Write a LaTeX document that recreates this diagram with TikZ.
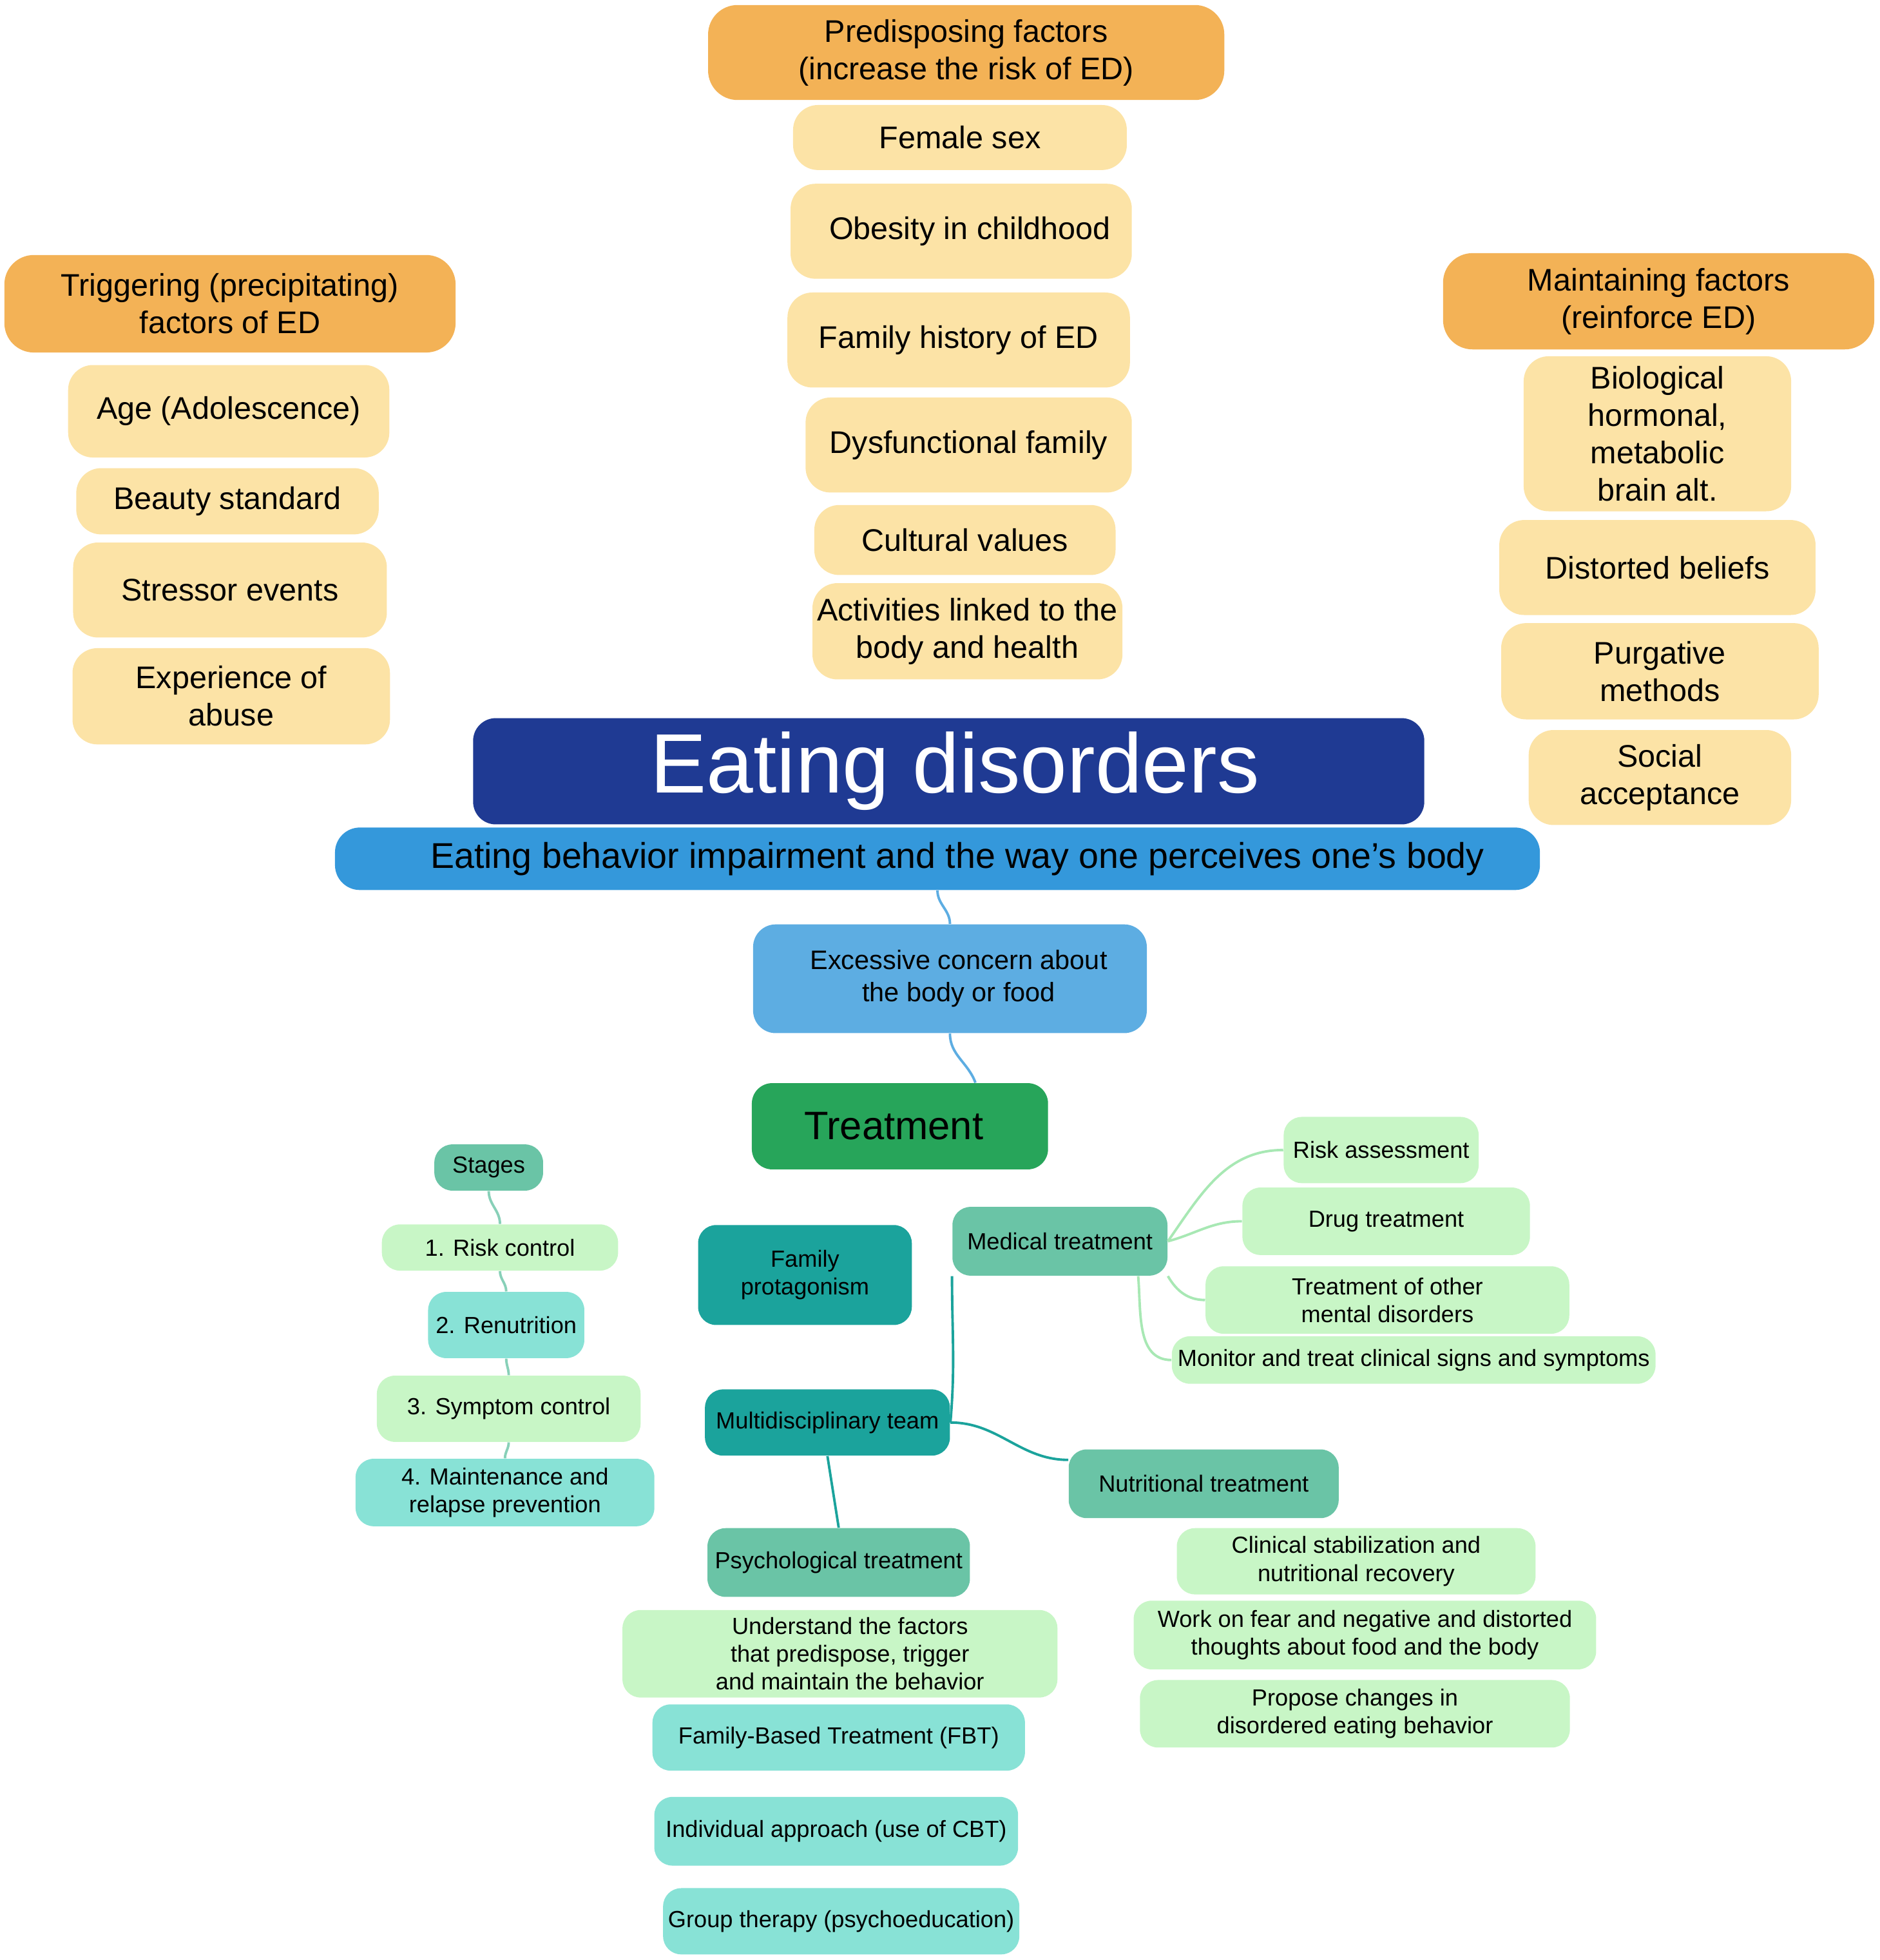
\documentclass[tikz,border=0pt]{standalone}
\usepackage{fontspec}
\setmainfont{Liberation Sans}
\usetikzlibrary{positioning}

\newlength\pxu
\setlength\pxu{0.019395cm}

\definecolor{hdrorange}{HTML}{F3B256}
\definecolor{factoryellow}{HTML}{FCE3A6}
\definecolor{titlenavy}{HTML}{1F3A93}
\definecolor{subblue}{HTML}{3498DB}
\definecolor{concernblue}{HTML}{5DADE2}
\definecolor{treatgreen}{HTML}{27A55A}
\definecolor{midteal}{HTML}{6AC4A6}
\definecolor{lightgreen}{HTML}{C8F6C6}
\definecolor{lightteal}{HTML}{88E2D6}
\definecolor{darkteal}{HTML}{1BA39C}
\definecolor{medlink}{HTML}{A8E8B4}

\tikzset{
  tbox/.style 2 args={inner sep=0pt, align=center,
    minimum width=#1*\pxu, minimum height=#2*\pxu},
  header/.style={fill=hdrorange, rounded corners=13pt,
    font=\fontsize{13.8}{16.5}\selectfont},
  factor/.style={fill=factoryellow, rounded corners=11pt,
    font=\fontsize{13.8}{16.5}\selectfont},
  smalltxt/.style={rounded corners=8pt, font=\fontsize{10.3}{12.3}\selectfont},
  midbox/.style={smalltxt, fill=midteal},
  greenbox/.style={smalltxt, fill=lightgreen},
  tealbox/.style={smalltxt, fill=lightteal},
  darkbox/.style={smalltxt, fill=darkteal},
  conline/.style={line width=1.1pt},
  stageline/.style={conline, midteal!80},
  medline/.style={conline, medlink},
  teamline/.style={conline, darkteal},
}

\begin{document}
\begin{tikzpicture}[x=\pxu, y=\pxu]
  \useasboundingbox (0,0) rectangle (1504,-1568);

  % Predisposing factors
  \node[header, tbox={413}{76}] (pred) at (773,-42) {Predisposing factors\\(increase the risk of ED)};
  \node[factor, tbox={267}{52}] (female) at (768,-110) {Female sex};
  \node[factor, tbox={273}{76}] (obesity) at (769,-185) {\hspace*{14\pxu}Obesity in childhood};
  \node[factor, tbox={274}{76}] (famhist) at (767,-272) {Family history of ED};
  \node[factor, tbox={261}{76}] (dysfam) at (775,-356) {Dysfunctional family};
  \node[factor, tbox={241}{56}] (cultural) at (772,-432) {Cultural values};
  \node[factor, tbox={248}{77}] (activ) at (774,-505) {Activities linked to the\\body and health};

  % Triggering factors
  \node[header, tbox={361}{78}] (trig) at (184,-243) {Triggering (precipitating)\\factors of ED};
  \node[factor, tbox={257}{74}] (age) at (183,-329) {Age (Adolescence)};
  \node[factor, tbox={242}{53}] (beauty) at (182,-401) {Beauty standard};
  \node[factor, tbox={251}{76}] (stressor) at (184,-472) {Stressor events};
  \node[factor, tbox={254}{77}] (abuse) at (185,-557) {Experience of\\abuse};

  % Maintaining factors
  \node[header, tbox={345}{77}] (maint) at (1327,-241) {Maintaining factors\\(reinforce ED)};
  \node[factor, tbox={214}{124}] (bio) at (1326,-347) {Biological\\hormonal,\\metabolic\\brain alt.};
  \node[factor, tbox={253}{76}] (beliefs) at (1326,-454) {Distorted beliefs};
  \node[factor, tbox={254}{77}] (purg) at (1328,-537) {Purgative\\methods};
  \node[factor, tbox={210}{76}] (social) at (1328,-622) {Social\\acceptance};

  % Core
  \node[tbox={761}{85}, fill=titlenavy, text=white, rounded corners=10pt,
    font=\fontsize{37.2}{40}\selectfont] (title) at (759,-617) {\hspace*{10\pxu}Eating disorders};
  \node[tbox={964}{50}, fill=subblue, rounded corners=11pt,
    font=\fontsize{15.8}{18}\selectfont] (sub) at (750,-687) {\hspace*{32\pxu}Eating behavior impairment and the way one perceives one’s body};
  \node[tbox={315}{87}, fill=concernblue, rounded corners=10pt,
    font=\fontsize{11.8}{14.3}\selectfont] (concern) at (760,-783) {\hspace*{14\pxu}Excessive concern about\\\hspace*{14\pxu}the body or food};
  \node[tbox={237}{69}, fill=treatgreen, rounded corners=9pt,
    font=\fontsize{17.5}{20}\selectfont] (treat) at (720,-901) {Treatment\hspace*{10\pxu}};

  \draw[conline, concernblue] (sub.south) to[out=-90, in=90] (concern.north);
  \draw[conline, concernblue] (concern.south) to[out=-90, in=110] (treat.30);

  % Stages
  \node[midbox, tbox={87}{37}] (stages) at (391,-934) {Stages};
  \node[greenbox, tbox={189}{37}] (riskctl) at (400,-998) {1. Risk control};
  \node[tealbox, tbox={125}{53}] (renut) at (405,-1060) {2. Renutrition};
  \node[greenbox, tbox={211}{53}] (symptom) at (407,-1127) {3. Symptom control};
  \node[tealbox, tbox={239}{54}] (relapse) at (404,-1194) {4. Maintenance and\\relapse prevention};
  \foreach \a/\b in {stages/riskctl, riskctl/renut, renut/symptom, symptom/relapse}
    \draw[stageline] (\a.south) to[out=-90, in=90] (\b.north);

  % Team
  \node[darkbox, tbox={171}{80}] (famprot) at (644,-1020) {Family\\protagonism};
  \node[midbox, tbox={172}{55}] (medical) at (848,-993) {Medical treatment};
  \node[darkbox, tbox={196}{53}] (team) at (662,-1138) {Multidisciplinary team};
  \node[midbox, tbox={216}{55}] (nutri) at (963,-1187) {Nutritional treatment};
  \node[midbox, tbox={210}{55}] (psych) at (671,-1250) {Psychological treatment};

  \draw[teamline] (team.east) to[out=85, in=-90] (medical.south west);
  \draw[teamline] (team.east) to[out=0, in=180] (nutri.170);
  \draw[teamline] (team.south) -- (psych.north);

  % Medical treatment
  \node[greenbox, tbox={156}{53}] (riskass) at (1105,-920) {Risk assessment};
  \node[greenbox, tbox={230}{54}] (drug) at (1109,-977) {Drug treatment};
  \node[greenbox, tbox={291}{54}] (othermd) at (1110,-1040) {Treatment of other\\mental disorders};
  \node[greenbox, tbox={387}{38}] (monitor) at (1131,-1088) {Monitor and treat clinical signs and symptoms};

  \draw[medline] (medical.east) to[out=55, in=180] (riskass.west);
  \draw[medline] (medical.east) to[out=15, in=180] (drug.west);
  \draw[medline] (medical.south east) to[out=-60, in=180] (othermd.west);
  \draw[medline] (medical.-24) to[out=-85, in=180] (monitor.west);

  % Nutritional treatment
  \node[greenbox, tbox={287}{53}] (stabil) at (1085,-1249) {Clinical stabilization and\\nutritional recovery};
  \node[greenbox, tbox={370}{55}] (fear) at (1092,-1308) {Work on fear and negative and distorted\\thoughts about food and the body};
  \node[greenbox, tbox={344}{54}] (propose) at (1084,-1371) {Propose changes in\\disordered eating behavior};

  % Psychological treatment
  \node[greenbox, tbox={348}{70}] (underst) at (672,-1323) {\hspace*{16\pxu}Understand the factors\\\hspace*{16\pxu}that predispose, trigger\\\hspace*{16\pxu}and maintain the behavior};
  \node[tealbox, tbox={298}{53}] (fbt) at (671,-1390) {Family-Based Treatment (FBT)};
  \node[tealbox, tbox={291}{55}] (indiv) at (669,-1465) {Individual approach (use of CBT)};
  \node[tealbox, tbox={285}{53}] (group) at (673,-1537) {Group therapy (psychoeducation)};
\end{tikzpicture}
\end{document}
